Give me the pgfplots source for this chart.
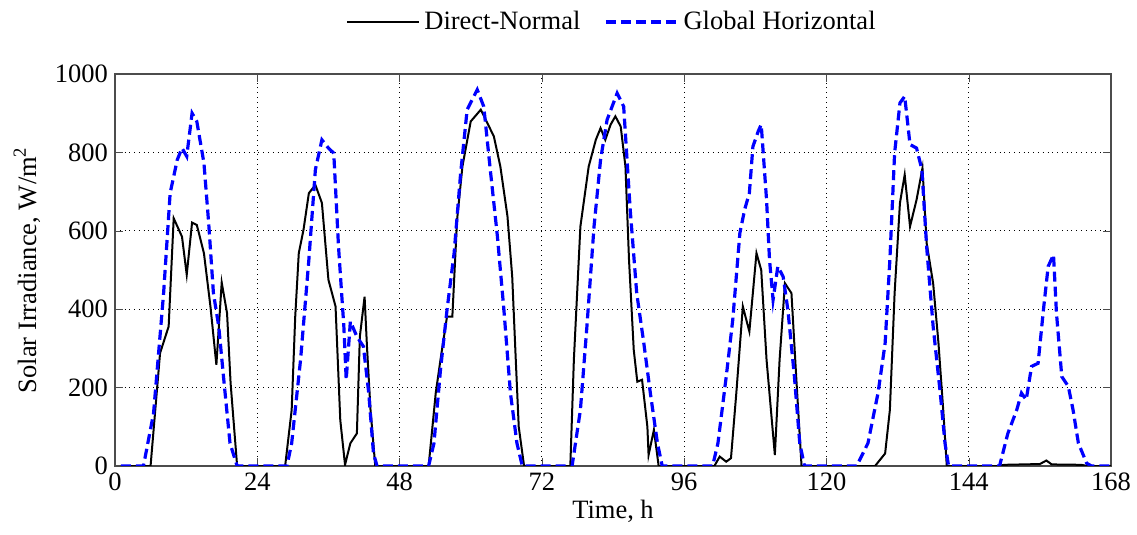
\documentclass[border=0pt]{standalone}
\usepackage{fontspec}
\setmainfont{Liberation Serif}
\usepackage{pgfplots}
\pgfplotsset{compat=1.18}
\begin{document}
\begin{tikzpicture}
\begin{axis}[
  scale only axis,
  width=498bp, height=196bp,
  xmin=0, xmax=168, ymin=0, ymax=1000,
  xtick={0,24,...,168}, ytick={0,200,...,1000},
  tick align=inside,
  major tick length=4bp,
  grid=major,
  major grid style={black, dotted, line width=0.5pt},
  axis line style={black!70, line width=0.6pt},
  tick style={black!70},
  font=\fontsize{13.3}{15}\selectfont,
  /pgf/number format/assume math mode=true,
  /pgf/number format/1000 sep={},
  xlabel={Time, h},
  ylabel={Solar Irradiance, W/m\textsuperscript{2}},
  xlabel style={yshift=2bp},
  ylabel style={yshift=0.5bp},
  legend columns=2,
  legend style={at={(axis description cs:0.5,1)}, anchor=center, yshift=26bp, draw=none, fill=none,
    font=\fontsize{13.3}{15}\selectfont, /tikz/every even column/.append style={column sep=10bp}},
  legend image code/.code={\draw[#1] (0bp,0bp) -- (36bp,0bp);},
]
\addplot[black, line width=1bp] coordinates {
(1,0)(6.0,0)(7.6,288)(9.05,356)(9.9,632)(11.3,585)(12.1,488)(13.0,621)(13.8,615)(15.0,543)(16.1,407)(17.1,258)(18.0,468)(18.9,390)(19.5,211)(20.6,0)
(28.7,0)(29.8,143)(30.4,381)(31.0,543)(31.8,603)(32.7,696)(33.8,717)(34.9,671)(36.0,475)(37.2,407)(38.0,117)(38.8,3)(39.7,58)(40.8,83)(41.3,330)(42.1,432)(42.5,305)(43.1,143)(43.9,0)
(52.9,0)(54.1,186)(54.9,271)(56.0,381)(56.9,381)(57.7,628)(58.6,764)(60.0,879)(61.7,909)(62.8,875)(63.9,841)(65.0,764)(66.2,637)(67.0,483)(67.6,271)(68.1,100)(69.0,0)
(76.8,0)(77.4,271)(78.5,611)(79.9,764)(81.1,832)(81.9,862)(82.7,832)(83.6,871)(84.4,892)(85.3,866)(86.1,764)(86.7,526)(87.5,296)(88.1,215)(88.9,220)(89.8,100)(90.0,28)(90.9,92)(91.7,0)
(101.1,0)(102.0,24)(103.1,11)(103.9,20)(104.8,186)(105.9,407)(107.0,343)(108.2,543)(109.0,500)(109.9,271)(111.3,28)(112.1,271)(113.0,466)(114.1,441)(114.9,228)(115.8,0)
(128.2,0)(129.9,32)(130.7,143)(131.5,441)(132.4,671)(133.2,743)(134.1,611)(135.2,679)(136.2,760)(136.9,569)(138.0,466)(138.9,313)(139.7,143)(140.3,0)
(149,0)(150,3)(156,5)(157.1,14)(158,4)(163,3)(164,0)(168,0)
};
\addlegendentry{Direct-Normal}
\addplot[blue, line width=1.6bp, dash pattern=on 5bp off 2.5bp] coordinates {
(1,0)(4.8,0)(6.5,134)(8.2,441)(9.3,696)(10.5,781)(11.3,811)(12.1,790)(13.0,900)(13.8,879)(15.0,773)(15.8,620)(16.6,441)(17.5,356)(18.3,228)(19.4,58)(20.6,0)
(29.0,0)(29.8,58)(31.3,271)(32.7,526)(33.8,756)(34.9,832)(36.0,811)(36.9,798)(37.7,560)(38.6,356)(39.0,220)(39.7,369)(40.8,330)(41.9,305)(42.8,186)(43.6,32)(44.2,0)
(52.9,0)(53.8,58)(54.9,245)(56.0,398)(57.2,543)(58.3,747)(59.4,909)(61.1,960)(62.2,917)(63.3,756)(64.5,586)(65.6,398)(66.7,186)(67.8,58)(68.7,0)
(77.1,0)(78.5,143)(79.6,356)(80.8,611)(81.9,781)(83.0,883)(84.7,951)(85.8,917)(86.9,654)(88.0,441)(89.2,313)(90.3,186)(91.5,58)(92.3,0)
(100.8,0)(101.7,58)(103.1,228)(104.2,373)(105.4,594)(106.2,654)(107.0,696)(107.6,815)(108.5,854)(109.0,871)(109.9,679)(110.4,526)(111.0,424)(111.8,509)(112.7,483)(113.5,398)(114.6,228)(115.5,58)(116.3,0)
(125.1,0)(127.0,58)(128.7,186)(129.9,313)(130.7,526)(131.5,798)(132.4,926)(133.2,943)(134.1,820)(135.2,811)(136.1,756)(136.9,560)(138.0,356)(139.2,186)(140.0,58)(140.6,0)
(149.2,0)(150.6,83)(152.1,143)(152.9,186)(153.7,169)(154.6,254)(155.7,262)(156.6,398)(157.4,509)(158.3,539)(158.8,390)(159.7,228)(160.8,203)(161.6,143)(162.5,58)(163.9,7)(164.7,0)(168,0)
};
\addlegendentry{Global Horizontal}
\end{axis}
\pgfresetboundingbox
\path (-57.5bp,-34.5bp) rectangle (511bp,233bp);
\end{tikzpicture}
\end{document}
